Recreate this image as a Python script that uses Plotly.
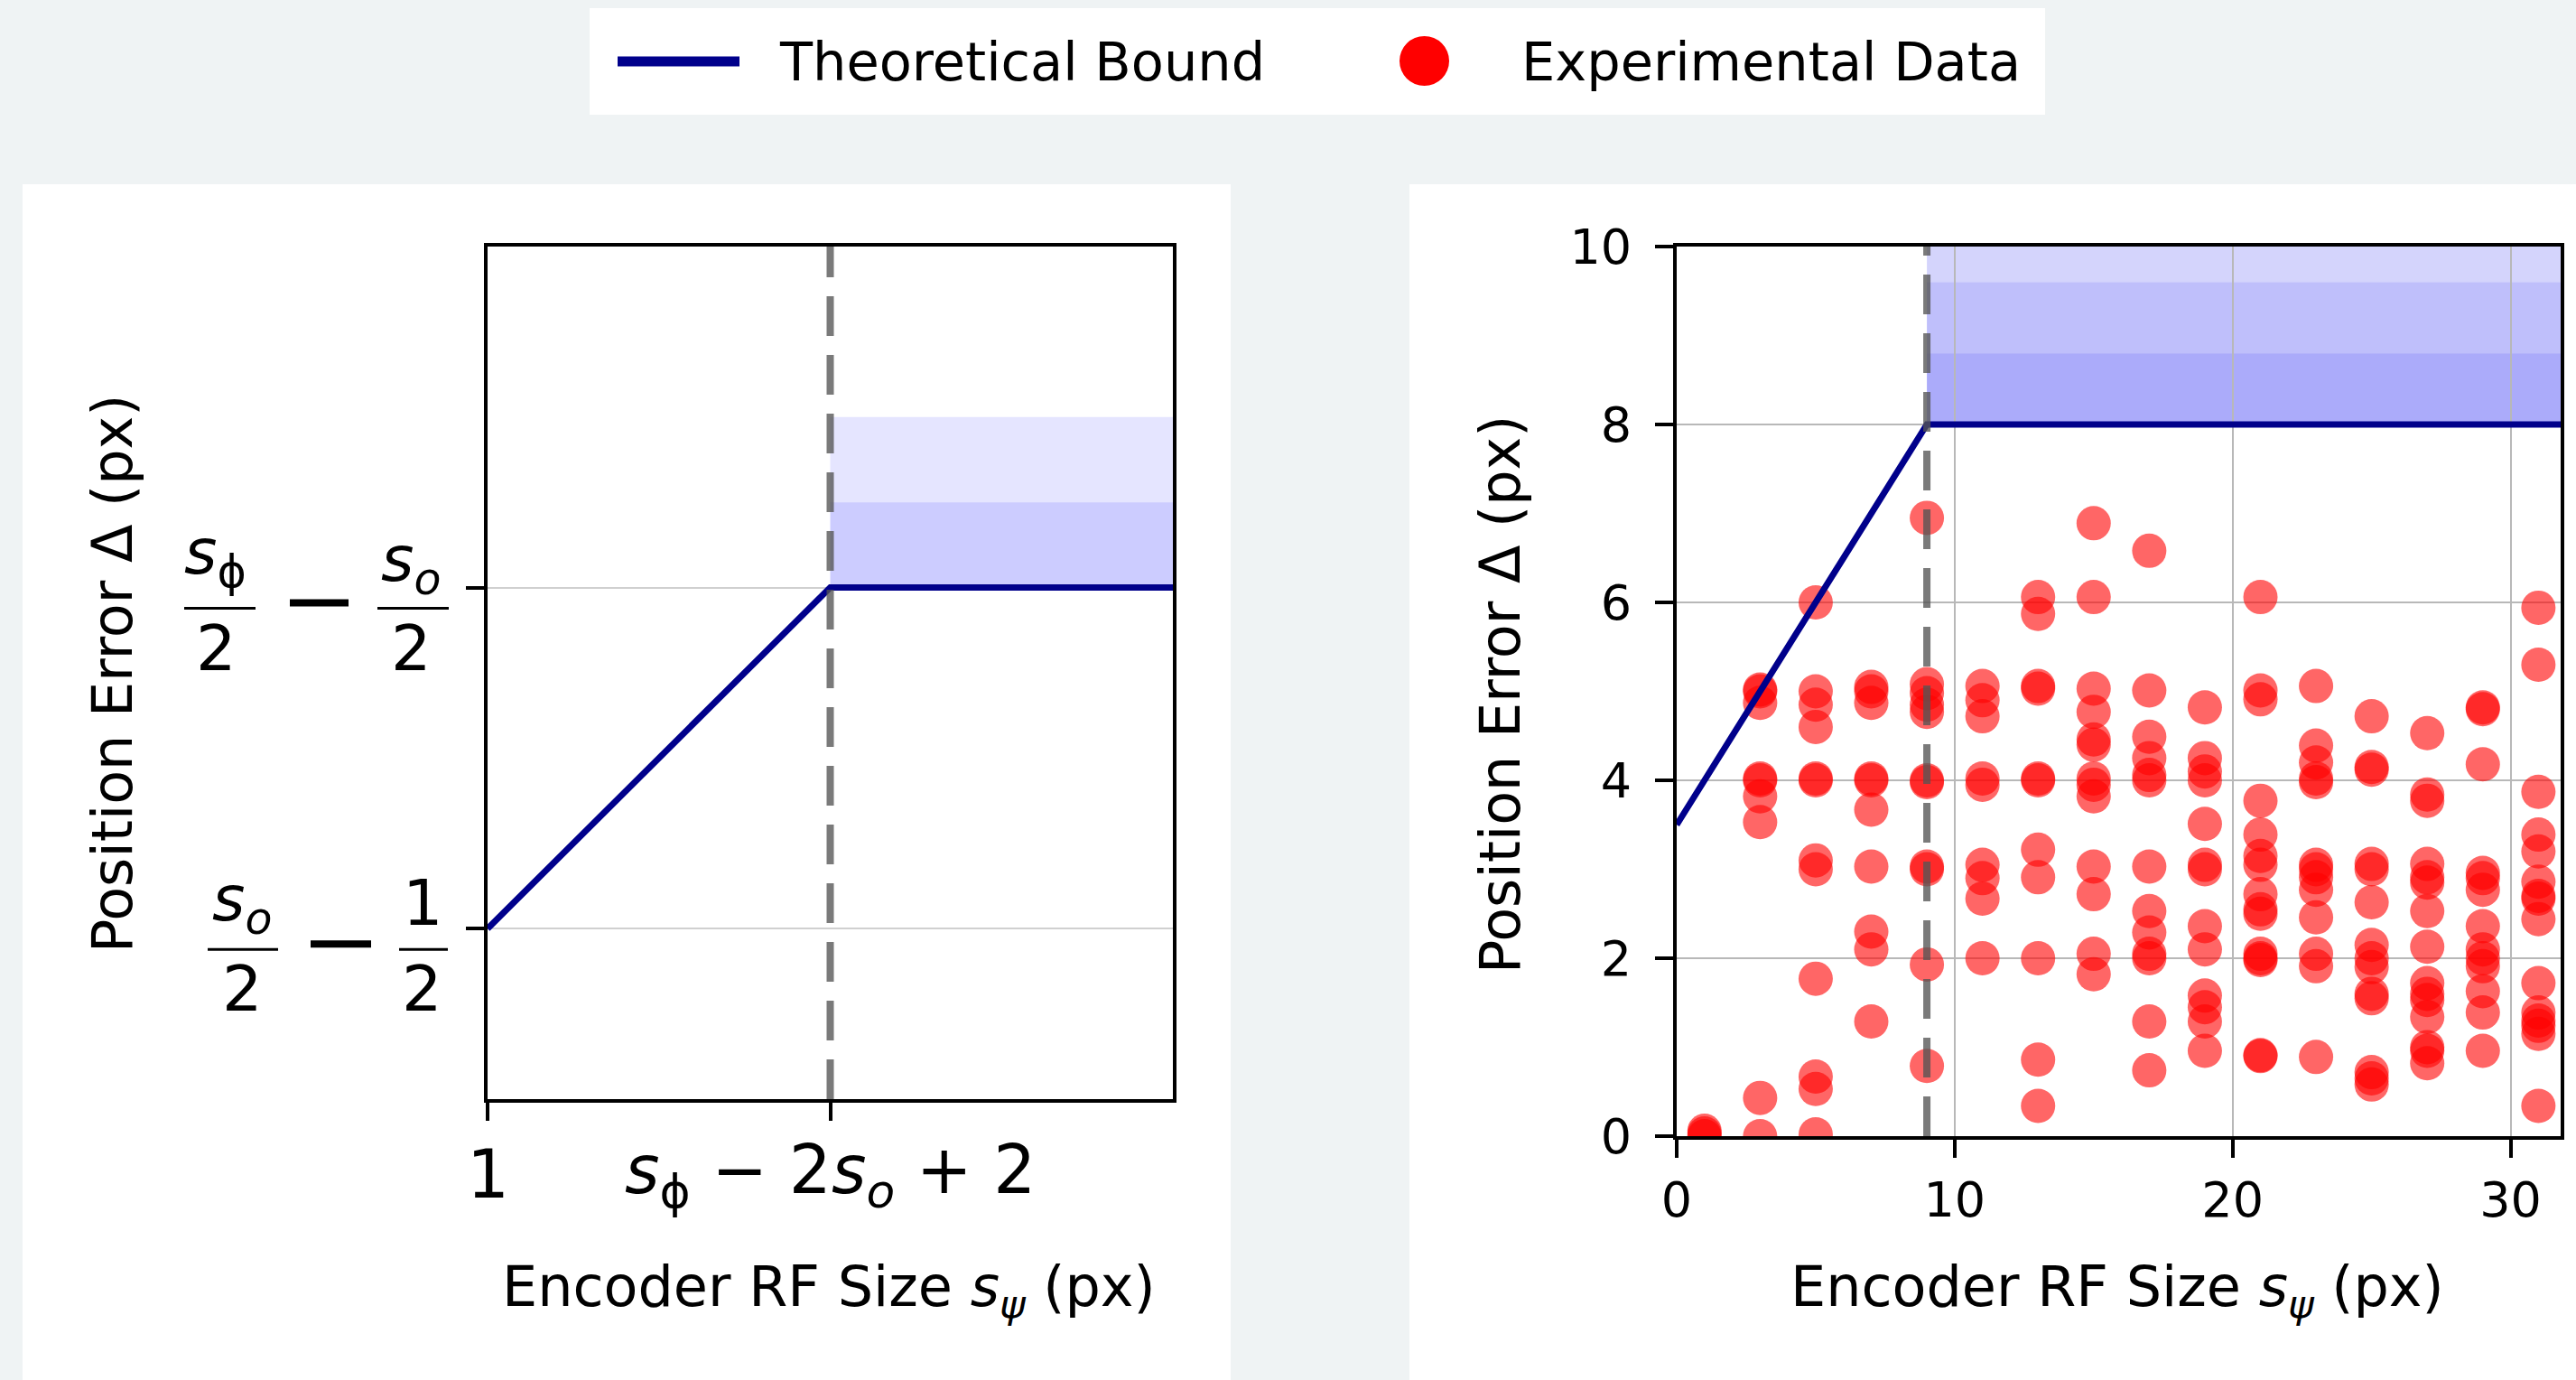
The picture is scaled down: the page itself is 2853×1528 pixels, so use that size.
import plotly.graph_objects as go

W, H = 2853, 1528
FONT = "DejaVu Sans"
NAVY = "#00008b"

# ---------------- data ----------------
# schematic (left) panel
bound_left_x = [1, 9, 17]
bound_left_y = [4, 8, 8]
left_band_base = 8
left_band_tops = [9, 10]
left_band_colors = ["rgba(0,0,255,0.20)", "rgba(0,0,255,0.10)"]
left_xtick_vals = [1, 9]
left_xtick_text = ["1", "<i>s</i><sub>ϕ</sub> − 2<i>s</i><sub><i>o</i></sub> + 2"]
left_ytick_vals = [4, 8]

# experimental (right) panel
bound_right_x = [0, 9, 32]
bound_right_y = [3.5, 8, 8]
transition_x = 9
right_band_base = 8
right_band_tops = [8.8, 9.6, 10.4]
right_band_colors = ["rgba(0,0,240,0.33)", "rgba(0,0,240,0.25)", "rgba(0,0,240,0.17)"]
right_xtick_vals = [0, 10, 20, 30]
right_ytick_vals = [0, 2, 4, 6, 8, 10]

rf_sizes = [1, 3, 5, 7, 9, 11, 13, 15, 17, 19, 21, 23, 25, 27, 29, 31]
err_rf1 = [0.0, 0.03, 0.06]
err_rf3 = [5.02, 5.0, 4.87, 4.0, 4.02, 3.82, 3.53, 0.43, 0.0]
err_rf5 = [6.0, 5.0, 4.85, 4.6, 4.02, 4.0, 3.1, 3.0, 1.77, 0.67, 0.53, 0.02]
err_rf7 = [5.05, 5.0, 4.87, 4.02, 4.0, 3.67, 3.03, 2.3, 2.1, 1.29]
err_rf9 = [6.95, 5.08, 4.98, 4.85, 4.77, 4.0, 3.98, 3.03, 3.0, 1.93, 0.79]
err_rf11 = [5.06, 4.9, 4.72, 4.02, 3.95, 3.05, 2.9, 2.67, 2.0]
err_rf13 = [6.06, 5.87, 5.06, 5.03, 4.02, 4.0, 3.22, 2.91, 2.0, 0.86, 0.34]
err_rf15 = [6.89, 6.06, 5.03, 4.77, 4.46, 4.4, 4.02, 3.95, 3.82, 3.03, 2.72, 2.05, 1.82]
err_rf17 = [6.58, 5.01, 4.49, 4.25, 4.06, 4.0, 3.03, 2.53, 2.29, 2.05, 2.0, 1.29, 0.74]
err_rf19 = [4.82, 4.25, 4.1, 4.0, 3.51, 3.05, 3.0, 2.36, 2.1, 1.58, 1.45, 1.29, 0.96]
err_rf21 = [6.06, 5.01, 4.91, 3.77, 3.39, 3.15, 3.05, 2.72, 2.55, 2.5, 2.05, 2.0, 1.98, 0.91, 0.9]
err_rf23 = [5.06, 4.39, 4.2, 4.02, 3.98, 3.05, 3.0, 2.91, 2.77, 2.46, 2.05, 1.91, 0.89]
err_rf25 = [4.72, 4.15, 4.12, 3.06, 3.0, 2.63, 2.15, 2.0, 1.9, 1.6, 1.55, 0.72, 0.65, 0.58]
err_rf27 = [4.53, 3.84, 3.77, 3.06, 2.91, 2.85, 2.53, 2.13, 1.72, 1.6, 1.53, 1.34, 1.0, 0.96, 0.82]
err_rf29 = [4.82, 4.8, 4.18, 2.96, 2.9, 2.77, 2.36, 2.1, 2.0, 1.91, 1.63, 1.39, 0.96]
err_rf31 = [5.94, 5.3, 3.87, 3.39, 3.2, 2.86, 2.7, 2.67, 2.44, 1.72, 1.39, 1.3, 1.24, 1.15, 0.34]

err_columns = [err_rf1, err_rf3, err_rf5, err_rf7, err_rf9, err_rf11, err_rf13, err_rf15,
               err_rf17, err_rf19, err_rf21, err_rf23, err_rf25, err_rf27, err_rf29, err_rf31]
exp_x, exp_y = [], []
for rf, col in zip(rf_sizes, err_columns):
    for v in col:
        exp_x.append(rf)
        exp_y.append(v)

# ---------------- figure ----------------
fig = go.Figure()

fig.add_trace(go.Scatter(
    x=exp_x, y=exp_y, mode="markers", xaxis="x2", yaxis="y2",
    marker=dict(color="red", size=38, opacity=0.6, line=dict(width=0)),
    showlegend=False, hoverinfo="x+y"))

fig.add_trace(go.Scatter(x=bound_left_x, y=bound_left_y, mode="lines", xaxis="x", yaxis="y",
                         line=dict(color=NAVY, width=7), showlegend=False))
fig.add_trace(go.Scatter(x=bound_right_x, y=bound_right_y, mode="lines", xaxis="x2", yaxis="y2",
                         line=dict(color=NAVY, width=7), showlegend=False))

fig.add_trace(go.Scatter(x=[transition_x, transition_x], y=[2, 12], mode="lines", xaxis="x", yaxis="y",
                         line=dict(color="rgba(85,85,85,0.78)", width=8, dash="44px,21px"),
                         showlegend=False, hoverinfo="skip"))
fig.add_trace(go.Scatter(x=[transition_x, transition_x], y=[0, 10], mode="lines", xaxis="x2", yaxis="y2",
                         line=dict(color="rgba(85,85,85,0.78)", width=8, dash="44px,21px"),
                         showlegend=False, hoverinfo="skip"))

shapes = []
def px_rect(x0, y0, x1, y1, color):
    return dict(type="rect", xref="paper", yref="paper", x0=x0 / W, x1=x1 / W,
                y0=1 - y1 / H, y1=1 - y0 / H, fillcolor=color, line=dict(width=0), layer="below")

shapes.append(px_rect(25, 204, 1363, 1530, "white"))
shapes.append(px_rect(1561, 204, 2855, 1530, "white"))

prev = left_band_base
for top, col in zip(left_band_tops, left_band_colors):
    shapes.append(dict(type="rect", xref="x", yref="y", x0=transition_x, x1=bound_left_x[-1],
                       y0=prev, y1=top, fillcolor=col, line=dict(width=0), layer="below"))
    prev = top
prev = right_band_base
for top, col in zip(right_band_tops, right_band_colors):
    shapes.append(dict(type="rect", xref="x2", yref="y2", x0=transition_x, x1=bound_right_x[-1],
                       y0=prev, y1=top, fillcolor=col, line=dict(width=0), layer="below"))
    prev = top

# legend box (drawn manually to match symbol sizes)
shapes.append(px_rect(653, 9, 2265, 127, "white"))
shapes.append(dict(type="line", xref="paper", yref="paper", x0=684 / W, x1=819 / W,
                   y0=1 - 68 / H, y1=1 - 68 / H, line=dict(color=NAVY, width=11)))
shapes.append(dict(type="circle", xref="paper", yref="paper", x0=1550 / W, x1=1605 / W,
                   y0=1 - 95 / H, y1=1 - 40 / H, fillcolor="red", line=dict(width=0)))

annotations = []
def ann_px(text, x, y, size, xanchor="center", angle=0):
    return dict(text=text, x=x / W, y=1 - y / H, xref="paper", yref="paper", showarrow=False,
                xanchor=xanchor, yanchor="middle", textangle=angle,
                font=dict(family=FONT, size=size, color="black"))

annotations.append(ann_px("Theoretical Bound", 861, 68, 59, xanchor="left"))
annotations.append(ann_px("Experimental Data", 1683, 68, 59, xanchor="left"))

annotations.append(ann_px("Position Error Δ (px)", 124, 746, 62, angle=-90))
annotations.append(ann_px("Position Error Δ (px)", 1661, 769, 62, angle=-90))
annotations.append(ann_px("Encoder RF Size <i>s</i><sub><i>ψ</i></sub> (px)", 918, 1428, 62))
annotations.append(ann_px("Encoder RF Size <i>s</i><sub><i>ψ</i></sub> (px)", 2345, 1428, 62))

# x tick labels of the schematic panel (math-style text under the ticks)
for val, txt in zip(left_xtick_vals, left_xtick_text):
    annotations.append(dict(text=txt, x=val, xref="x", y=1 - 1300 / H, yref="paper",
                            showarrow=False, xanchor="center", yanchor="middle",
                            font=dict(family=FONT, size=74, color="black")))

BAR = 23
FR = 70
def frac_parts(tick, num, num_cx, num_dy, den_cx, bx0, bx1):
    out_a, out_s = [], []
    out_a.append(dict(text=num, x=num_cx / W, xref="paper", y=tick, yref="y", yshift=-(BAR + num_dy),
                      showarrow=False, xanchor="center", yanchor="middle",
                      font=dict(family=FONT, size=FR, color="black")))
    out_a.append(dict(text="2", x=den_cx / W, xref="paper", y=tick, yref="y", yshift=-(BAR + 44),
                      showarrow=False, xanchor="center", yanchor="middle",
                      font=dict(family=FONT, size=FR, color="black")))
    out_s.append(dict(type="line", xref="paper", x0=bx0 / W, x1=bx1 / W, yref="y", ysizemode="pixel",
                      yanchor=tick, y0=-BAR, y1=-BAR, line=dict(color="black", width=3)))
    return out_a, out_s

def minus_part(tick, x0, x1):
    return dict(type="line", xref="paper", x0=x0 / W, x1=x1 / W, yref="y", ysizemode="pixel",
                yanchor=tick, y0=-BAR + 6, y1=-BAR + 6, line=dict(color="black", width=8))

for parts in [
    frac_parts(left_ytick_vals[1], "<i>s</i><sub>ϕ</sub>", 238, -58, 239, 204, 283),
    frac_parts(left_ytick_vals[1], "<i>s</i><sub><i>o</i></sub>", 455, -50, 455, 418, 497),
    frac_parts(left_ytick_vals[0], "<i>s</i><sub><i>o</i></sub>", 268, -51, 268, 230, 308),
    frac_parts(left_ytick_vals[0], "1", 469, -51, 467, 442, 496),
]:
    annotations.extend(parts[0])
    shapes.extend(parts[1])
shapes.append(minus_part(left_ytick_vals[1], 321, 386))
shapes.append(minus_part(left_ytick_vals[0], 344, 411))

axis_common = dict(showline=True, linecolor="black", linewidth=4, mirror=True,
                   ticks="outside", ticklen=20, tickwidth=4, tickcolor="black",
                   zeroline=False, fixedrange=True, automargin=False)

fig.update_layout(
    width=W, height=H, autosize=False,
    margin=dict(l=0, r=0, t=0, b=0, pad=0, autoexpand=False),
    paper_bgcolor="#eff3f4", plot_bgcolor="white",
    showlegend=False,
    font=dict(family=FONT, color="black"),
    xaxis=dict(domain=[540 / W, 1299 / W], range=[1, 17], anchor="y",
               tickvals=left_xtick_vals, showticklabels=False,
               showgrid=False, **axis_common),
    yaxis=dict(domain=[1 - 1217 / H, 1 - 273 / H], range=[2, 12], anchor="x",
               tickvals=left_ytick_vals, showticklabels=False,
               showgrid=True, gridcolor="#d0d0d0", gridwidth=2, **axis_common),
    xaxis2=dict(domain=[1857 / W, 2836 / W], range=[0, 31.8], anchor="y2",
                tickvals=right_xtick_vals, ticktext=[str(v) for v in right_xtick_vals],
                tickfont=dict(size=54, family=FONT, color="black"), ticklabelstandoff=0,
                showgrid=True, gridcolor="#b8b8b8", gridwidth=2, **axis_common),
    yaxis2=dict(domain=[1 - 1258 / H, 1 - 273 / H], range=[0, 10], anchor="x2",
                tickvals=right_ytick_vals, ticktext=[str(v) for v in right_ytick_vals],
                tickfont=dict(size=54, family=FONT, color="black"), ticklabelstandoff=15,
                showgrid=True, gridcolor="#b8b8b8", gridwidth=2, **axis_common),
    shapes=shapes,
    annotations=annotations,
)

fig.write_html("out.html")
